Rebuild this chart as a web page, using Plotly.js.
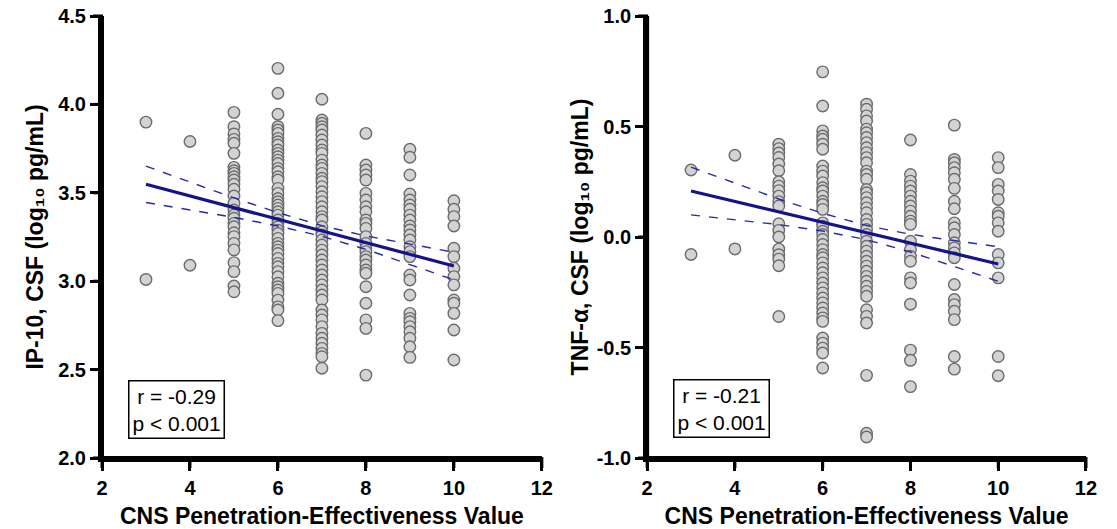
<!DOCTYPE html>
<html>
<head>
<meta charset="utf-8">
<script src="https://cdn.plot.ly/plotly-3.0.1.min.js"></script>
<style>html,body{margin:0;padding:0;background:#fff;}#chart{width:1117px;height:529px;}</style>
</head>
<body>
<div id="chart"></div>
<script>
// CNS Penetration-Effectiveness (CPE) values
var cpeValues = [3, 4, 5, 6, 7, 8, 9, 10];

// IP-10, CSF (log10 pg/mL) by CPE value
var ip10_cpe3 = [3.90, 3.01];
var ip10_cpe4 = [3.79, 3.09];
var ip10_cpe5 = [3.955, 3.874, 3.833, 3.802, 3.78, 3.723, 3.644, 3.625, 3.61, 3.591, 3.572, 3.548, 3.52, 3.482, 3.44, 3.403, 3.374, 3.356, 3.327, 3.308, 3.274, 3.252, 3.214, 3.177, 3.105, 3.054, 2.973, 2.94];
var ip10_cpe6 = [4.204, 4.063, 3.944, 3.874, 3.855, 3.836, 3.808, 3.789, 3.77, 3.742, 3.723, 3.704, 3.685, 3.666, 3.638, 3.619, 3.591, 3.572, 3.525, 3.497, 3.468, 3.449, 3.431, 3.412, 3.393, 3.374, 3.346, 3.327, 3.308, 3.289, 3.27, 3.242, 3.214, 3.195, 3.176, 3.157, 3.129, 3.101, 3.082, 3.054, 3.025, 2.988, 2.969, 2.95, 2.931, 2.893, 2.855, 2.837, 2.777];
var ip10_cpe7 = [4.029, 3.912, 3.893, 3.874, 3.855, 3.827, 3.799, 3.77, 3.742, 3.723, 3.685, 3.657, 3.638, 3.61, 3.582, 3.563, 3.535, 3.506, 3.478, 3.45, 3.421, 3.393, 3.365, 3.346, 3.308, 3.28, 3.261, 3.233, 3.205, 3.176, 3.148, 3.12, 3.092, 3.063, 3.035, 3.007, 2.979, 2.95, 2.922, 2.894, 2.837, 2.809, 2.781, 2.743, 2.705, 2.677, 2.649, 2.62, 2.592, 2.573, 2.508];
var ip10_cpe8 = [3.836, 3.657, 3.629, 3.601, 3.572, 3.497, 3.459, 3.421, 3.393, 3.346, 3.327, 3.299, 3.252, 3.214, 3.186, 3.167, 3.139, 3.12, 3.092, 3.063, 3.045, 2.969, 2.875, 2.781, 2.733, 2.469];
var ip10_cpe9 = [3.746, 3.701, 3.601, 3.493, 3.459, 3.431, 3.407, 3.374, 3.346, 3.312, 3.29, 3.261, 3.233, 3.195, 3.167, 3.139, 3.035, 3.007, 2.922, 2.818, 2.79, 2.771, 2.743, 2.714, 2.677, 2.629, 2.569];
var ip10_cpe10 = [3.455, 3.407, 3.365, 3.312, 3.186, 3.139, 3.073, 3.026, 2.979, 2.894, 2.875, 2.818, 2.724, 2.554];

// IP-10 regression line and 95% confidence band
var ip10_fit   = [3.548, 3.482, 3.416, 3.350, 3.284, 3.218, 3.152, 3.086];
var ip10_upper = [3.651, 3.562, 3.471, 3.388, 3.314, 3.256, 3.208, 3.164];
var ip10_lower = [3.445, 3.402, 3.361, 3.312, 3.254, 3.180, 3.096, 3.008];

// TNF-alpha, CSF (log10 pg/mL) by CPE value
var tnf_cpe3 = [0.303, -0.079];
var tnf_cpe4 = [0.37, -0.054];
var tnf_cpe5 = [0.42, 0.40, 0.38, 0.36, 0.33, 0.30, 0.25, 0.23, 0.21, 0.185, 0.16, 0.14, 0.06, 0.03, 0.0, -0.055, -0.08, -0.10, -0.13, -0.36];
var tnf_cpe6 = [0.747, 0.593, 0.48, 0.457, 0.442, 0.42, 0.397, 0.321, 0.298, 0.276, 0.246, 0.223, 0.208, 0.185, 0.162, 0.147, 0.125, 0.064, 0.049, 0.026, 0.011, -0.011, -0.034, -0.057, -0.079, -0.094, -0.117, -0.14, -0.162, -0.185, -0.208, -0.23, -0.253, -0.276, -0.298, -0.321, -0.344, -0.366, -0.382, -0.457, -0.48, -0.503, -0.525, -0.593];
var tnf_cpe7 = [0.601, 0.578, 0.548, 0.525, 0.488, 0.472, 0.45, 0.427, 0.404, 0.382, 0.359, 0.336, 0.298, 0.283, 0.261, 0.215, 0.2, 0.178, 0.155, 0.132, 0.11, 0.079, 0.057, 0.034, 0.011, -0.019, -0.042, -0.064, -0.087, -0.11, -0.132, -0.155, -0.178, -0.2, -0.223, -0.246, -0.268, -0.329, -0.359, -0.389, -0.626, -0.888, -0.905];
var tnf_cpe8 = [0.439, 0.283, 0.253, 0.23, 0.208, 0.185, 0.162, 0.14, 0.117, 0.094, 0.072, 0.057, -0.019, -0.057, -0.087, -0.11, -0.185, -0.208, -0.304, -0.512, -0.558, -0.677];
var tnf_cpe9 = [0.506, 0.351, 0.336, 0.314, 0.291, 0.261, 0.22, 0.162, 0.128, 0.064, 0.042, 0.011, -0.026, -0.049, -0.072, -0.094, -0.215, -0.283, -0.306, -0.336, -0.374, -0.541, -0.598];
var tnf_cpe10 = [0.359, 0.314, 0.238, 0.208, 0.17, 0.11, 0.094, 0.064, 0.026, -0.079, -0.117, -0.185, -0.541, -0.628];

// TNF-alpha regression line and 95% confidence band
var tnf_fit   = [0.208, 0.161, 0.114, 0.067, 0.020, -0.028, -0.075, -0.122];
var tnf_upper = [0.316, 0.244, 0.172, 0.107, 0.052, 0.012, -0.017, -0.044];
var tnf_lower = [0.100, 0.078, 0.056, 0.027, -0.012, -0.068, -0.133, -0.200];

// Tick labels and text
var xTickVals = [2, 4, 6, 8, 10, 12];
var xTickLabels = ['2', '4', '6', '8', '10', '12'];
var ip10TickVals = [2.0, 2.5, 3.0, 3.5, 4.0, 4.5];
var ip10TickLabels = ['2.0', '2.5', '3.0', '3.5', '4.0', '4.5'];
var tnfTickVals = [-1.0, -0.5, 0.0, 0.5, 1.0];
var tnfTickLabels = ['-1.0', '-0.5', '0.0', '0.5', '1.0'];
var xTitle = 'CNS Penetration-Effectiveness Value';
var ip10Title = 'IP-10, CSF (log\u2081\u2080 pg/mL)';
var tnfTitle = 'TNF-\u03b1, CSF (log\u2081\u2080 pg/mL)';
var ip10Stats = 'r = -0.29<br>p < 0.001';
var tnfStats = 'r = -0.21<br>p < 0.001';

var xRange = [2, 12];
var ip10Range = [2, 4.5];
var tnfRange = [-1, 1];

function flatten(cols) {
  var xs = [], ys = [];
  cols.forEach(function (col, i) {
    col.forEach(function (v) { xs.push(cpeValues[i]); ys.push(v); });
  });
  return {x: xs, y: ys};
}

var ip10 = flatten([ip10_cpe3, ip10_cpe4, ip10_cpe5, ip10_cpe6, ip10_cpe7, ip10_cpe8, ip10_cpe9, ip10_cpe10]);
var tnf = flatten([tnf_cpe3, tnf_cpe4, tnf_cpe5, tnf_cpe6, tnf_cpe7, tnf_cpe8, tnf_cpe9, tnf_cpe10]);

function markerStyle() { return {size: 11.5, color: '#d3d3d3', line: {color: '#6b6b6b', width: 1.4}}; }
function fitLine() { return {color: '#14148a', width: 3.2}; }
function ciLine() { return {color: '#2a2aa8', width: 1.4, dash: 'dash'}; }

function pts(d, xa, ya) { return {type: 'scatter', mode: 'markers', x: d.x, y: d.y, xaxis: xa, yaxis: ya, marker: markerStyle(), hoverinfo: 'skip'}; }
function ln(y, xa, ya, style) { return {type: 'scatter', mode: 'lines', x: cpeValues, y: y, xaxis: xa, yaxis: ya, line: style, hoverinfo: 'skip'}; }

var traces = [
  pts(ip10, 'x', 'y'),
  ln(ip10_upper, 'x', 'y', ciLine()),
  ln(ip10_lower, 'x', 'y', ciLine()),
  ln(ip10_fit, 'x', 'y', fitLine()),
  pts(tnf, 'x2', 'y2'),
  ln(tnf_upper, 'x2', 'y2', ciLine()),
  ln(tnf_lower, 'x2', 'y2', ciLine()),
  ln(tnf_fit, 'x2', 'y2', fitLine())
];

var FAM = 'Liberation Sans, Arial, sans-serif';

function ax(extra) {
  var a = {showline: true, linecolor: '#000', linewidth: 4, ticks: 'outside', ticklen: 9, tickwidth: 3, tickcolor: '#000',
    showgrid: false, zeroline: false, automargin: false,
    tickfont: {family: FAM, size: 20, color: '#000', weight: 'bold'}};
  for (var k in extra) a[k] = extra[k];
  return a;
}
function titleObj(t) { return {text: t, font: {family: FAM, size: 23, color: '#000', weight: 'bold'}}; }
function statsNote(text, xref, yref, x, y) {
  return {xref: xref, yref: yref, x: x, y: y, xanchor: 'left', yanchor: 'bottom', text: text, showarrow: false, align: 'center',
    font: {family: FAM, size: 21, color: '#000'}, bordercolor: '#000', borderwidth: 1.5, borderpad: 3};
}

// Heavy black axis frame drawn as domain-relative shapes (axis lines + outside tick marks)
function frameShapes(xa, ya, xTicks, yTicks, xr, yr) {
  var s = [];
  var black = function (w) { return {color: '#000', width: w}; };
  s.push({type: 'line', xref: xa + ' domain', yref: ya + ' domain', x0: 0, x1: 1, y0: 0, y1: 0, line: black(4)});
  s.push({type: 'line', xref: xa + ' domain', yref: ya + ' domain', x0: 0, x1: 0, y0: 0, y1: 1, line: black(4)});
  xTicks.forEach(function (v) {
    var f = (v - xr[0]) / (xr[1] - xr[0]);
    s.push({type: 'line', xref: xa + ' domain', yref: ya + ' domain', ysizemode: 'pixel', yanchor: 0, x0: f, x1: f, y0: 1, y1: -10, line: black(3)});
  });
  yTicks.forEach(function (v) {
    var f = (v - yr[0]) / (yr[1] - yr[0]);
    s.push({type: 'line', xref: xa + ' domain', yref: ya + ' domain', xsizemode: 'pixel', xanchor: 0, x0: 1, x1: -9, y0: f, y1: f, line: black(3)});
  });
  return s;
}

var layout = {
  width: 1117, height: 529,
  margin: {l: 102, r: 31, t: 16, b: 71},
  paper_bgcolor: '#fff', plot_bgcolor: '#fff', showlegend: false,
  xaxis: ax({domain: [0, 0.447], anchor: 'y', range: xRange.slice(), tickmode: 'array', tickvals: xTickVals.slice(), ticktext: xTickLabels.slice(), title: titleObj(xTitle)}),
  yaxis: ax({anchor: 'x', range: ip10Range.slice(), tickmode: 'array', tickvals: ip10TickVals, ticktext: ip10TickLabels, ticklen: 8, title: titleObj(ip10Title)}),
  xaxis2: ax({domain: [0.554, 1], anchor: 'y2', range: xRange.slice(), tickmode: 'array', tickvals: xTickVals.slice(), ticktext: xTickLabels.slice(), title: titleObj(xTitle)}),
  yaxis2: ax({anchor: 'x2', range: tnfRange.slice(), tickmode: 'array', tickvals: tnfTickVals, ticktext: tnfTickLabels, ticklen: 8, title: titleObj(tnfTitle)}),
  shapes: frameShapes('x', 'y', xTickVals, ip10TickVals, xRange, ip10Range)
    .concat(frameShapes('x2', 'y2', xTickVals, tnfTickVals, xRange, tnfRange)),
  annotations: [
    statsNote(ip10Stats, 'x', 'y', 2.6, 2.11),
    statsNote(tnfStats, 'x2', 'y2', 2.6, -0.91)
  ]
};

var gd = document.getElementById('chart');
function enforceAxisStyle() {
  gd.querySelectorAll('g.xtick text, g.ytick text, g.x2tick text, g.y2tick text').forEach(function (t) {
    t.style.fontWeight = 'bold'; t.style.fill = 'rgb(0, 0, 0)';
  });
}

Plotly.newPlot(gd, traces, layout, {staticPlot: true, displayModeBar: false}).then(function () {
  enforceAxisStyle();
  setTimeout(enforceAxisStyle, 100);
});
</script>
</body>
</html>
